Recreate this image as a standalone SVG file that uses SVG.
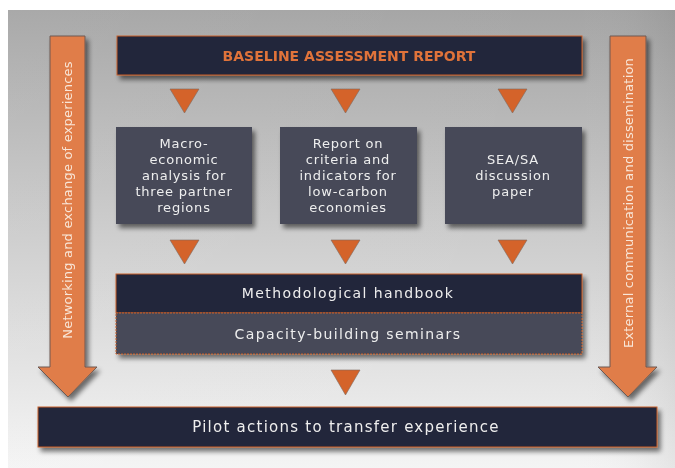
<svg xmlns="http://www.w3.org/2000/svg" width="675" height="468" viewBox="0 0 675 468">
  <defs>
    <linearGradient id="bg" x1="0" y1="0" x2="0" y2="1">
      <stop offset="0" stop-color="#a5a5a5"/>
      <stop offset="0.5" stop-color="#cdcdcd"/>
      <stop offset="1" stop-color="#f4f4f4"/>
    </linearGradient>
    <linearGradient id="vign" x1="0" y1="0" x2="1" y2="0">
      <stop offset="0" stop-color="#ffffff" stop-opacity="0.05"/>
      <stop offset="0.85" stop-color="#ffffff" stop-opacity="0"/>
      <stop offset="1" stop-color="#000000" stop-opacity="0.06"/>
    </linearGradient>
    <filter id="shadow" x="-10%" y="-10%" width="125%" height="140%">
      <feGaussianBlur in="SourceAlpha" stdDeviation="2.5"/>
      <feOffset dx="3" dy="4" result="b"/>
      <feComponentTransfer><feFuncA type="linear" slope="0.55"/></feComponentTransfer>
      <feMerge><feMergeNode/><feMergeNode in="SourceGraphic"/></feMerge>
    </filter>
  </defs>
  <style>
    .dark { fill: #22253a; stroke: #c8602c; stroke-width: 1; }
    .mid { fill: #474a59; }
    .midb { fill: #474a59; stroke: #c8602c; stroke-width: 1; }
    .tri { fill: #d4632a; stroke: #7d6a60; stroke-width: 0.6; }
    .side { fill: #e07d48; stroke: #6e5a52; stroke-width: 1; }
    .lbl { font-family: "DejaVu Sans", "Liberation Sans", sans-serif; fill: #eeeeee; font-size: 13px; letter-spacing: 0.8px; text-anchor: middle; }
    .bar-lbl { font-family: "DejaVu Sans", "Liberation Sans", sans-serif; fill: #eeeeee; font-size: 14px; letter-spacing: 1.4px; text-anchor: middle; }
    .side-lbl { font-family: "DejaVu Sans", "Liberation Sans", sans-serif; fill: #f8e6d8; font-size: 13px; letter-spacing: 0.2px; text-anchor: middle; }
    .title { font-family: "DejaVu Sans", "Liberation Sans", sans-serif; fill: #e0733a; font-size: 14px; font-weight: bold; text-anchor: middle; }
  </style>

  <!-- backdrop -->
  <rect x="0" y="0" width="675" height="468" fill="#ffffff"/>
  <rect x="8" y="10" width="667" height="458" fill="url(#bg)"/>
  <rect x="8" y="10" width="667" height="458" fill="url(#vign)"/>

  <!-- side arrows -->
  <g id="networking" filter="url(#shadow)">
    <path class="side" d="M50 36 H85 V367 H97 L68 397 L38 367 H50 Z"/>
    <text class="side-lbl" transform="translate(72 200) rotate(-90)">Networking and exchange of experiences</text>
  </g>
  <g id="external" filter="url(#shadow)">
    <path class="side" d="M610 36 H646 V367 H657 L628 397 L598 367 H610 Z"/>
    <text class="side-lbl" transform="translate(633 203) rotate(-90)">External communication and dissemination</text>
  </g>

  <!-- flow markers -->
  <g id="connectors">
    <polygon class="tri" points="170,89 199,89 184.5,113"/>
    <polygon class="tri" points="331,89 360,89 345.5,113"/>
    <polygon class="tri" points="498,89 527,89 512.5,113"/>
    <polygon class="tri" points="170,240 199,240 184.5,264"/>
    <polygon class="tri" points="331,240 360,240 345.5,264"/>
    <polygon class="tri" points="498,240 527,240 512.5,264"/>
    <polygon class="tri" points="331,370 360,370 345.5,395"/>
  </g>

  <g id="baseline" filter="url(#shadow)">
    <rect class="dark" x="117" y="36" width="465" height="39"/>
    <text class="title" x="349" y="61">BASELINE ASSESSMENT REPORT</text>
  </g>

  <g id="macro" filter="url(#shadow)">
    <rect class="mid" x="116" y="127" width="136" height="97"/>
    <text class="lbl" x="184" y="148">Macro-</text>
    <text class="lbl" x="184" y="164">economic</text>
    <text class="lbl" x="184" y="180">analysis for</text>
    <text class="lbl" x="184" y="196">three partner</text>
    <text class="lbl" x="184" y="212">regions</text>
  </g>

  <g id="criteria" filter="url(#shadow)">
    <rect class="mid" x="280" y="127" width="137" height="97"/>
    <text class="lbl" x="348" y="148">Report on</text>
    <text class="lbl" x="348" y="164">criteria and</text>
    <text class="lbl" x="348" y="180">indicators for</text>
    <text class="lbl" x="348" y="196">low-carbon</text>
    <text class="lbl" x="348" y="212">economies</text>
  </g>

  <g id="sea" filter="url(#shadow)">
    <rect class="mid" x="445" y="127" width="137" height="97"/>
    <text class="lbl" x="513" y="164">SEA/SA</text>
    <text class="lbl" x="513" y="180">discussion</text>
    <text class="lbl" x="513" y="196">paper</text>
  </g>

  <g id="handbook" filter="url(#shadow)">
    <rect class="dark" x="116" y="274" width="466" height="39"/>
    <text class="bar-lbl" x="348" y="298">Methodological handbook</text>
  </g>

  <g id="seminars" filter="url(#shadow)">
    <rect class="midb" x="116" y="313" width="466" height="41" stroke-dasharray="2 1"/>
    <text class="bar-lbl" x="348" y="339">Capacity-building seminars</text>
  </g>

  <g id="pilot" filter="url(#shadow)">
    <rect class="dark" x="38" y="407" width="619" height="40"/>
    <text class="bar-lbl" x="346" y="432" style="font-size:15px; letter-spacing:1.25px">Pilot actions to transfer experience</text>
  </g>
</svg>
